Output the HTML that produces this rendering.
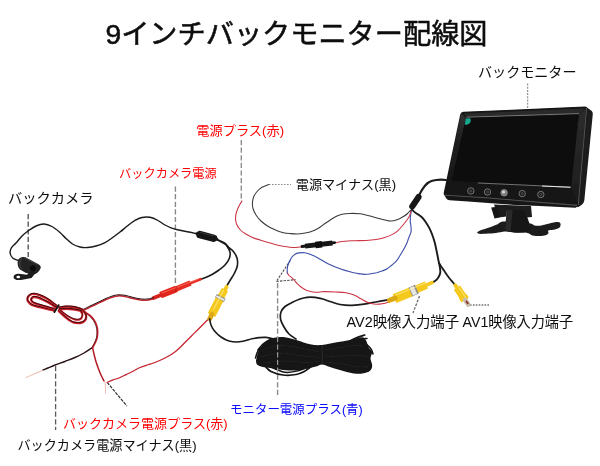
<!DOCTYPE html>
<html><head><meta charset="utf-8"><title>9インチバックモニター配線図</title>
<style>
html,body{margin:0;padding:0;background:#fff;font-family:"Liberation Sans",sans-serif;}
body{width:600px;height:466px;overflow:hidden;}
svg{display:block;}
</style></head><body>
<svg width="600" height="466" viewBox="0 0 600 466">
<defs><filter id="b" x="-5%" y="-5%" width="110%" height="110%"><feGaussianBlur stdDeviation="0.45"/></filter>
<filter id="bt" x="-5%" y="-5%" width="110%" height="110%"><feGaussianBlur stdDeviation="0.22"/></filter></defs>
<rect width="600" height="466" fill="#ffffff"/>
<g filter="url(#b)">
<line x1="527.6" y1="83.5" x2="527.6" y2="108.5" stroke="#969696" stroke-width="1.3" stroke-dasharray="2 1.2"/>
<line x1="241.3" y1="140" x2="241.3" y2="201" stroke="#8e8e8e" stroke-width="1.4" stroke-dasharray="5.2 2.4"/>
<line x1="175.4" y1="186.5" x2="175.4" y2="285" stroke="#8a8a8a" stroke-width="1.4" stroke-dasharray="5.2 2.4"/>
<line x1="28.2" y1="214" x2="28.2" y2="257" stroke="#4a4a4a" stroke-width="1.3" stroke-dasharray="5.2 2.4"/>
<line x1="55.6" y1="366" x2="55.6" y2="430" stroke="#5a5a5a" stroke-width="1.3" stroke-dasharray="5.2 2.4"/>
<line x1="277.6" y1="283" x2="277.6" y2="337.4" stroke="#8a8a8a" stroke-width="1.4" stroke-dasharray="5.2 2.4"/>
<line x1="277.6" y1="374.6" x2="277.6" y2="395" stroke="#8a8a8a" stroke-width="1.4" stroke-dasharray="5.2 2.4"/>
<line x1="269" y1="184.5" x2="291" y2="184.5" stroke="#8a8a8a" stroke-width="1.1" stroke-dasharray="1.6 1.4"/>
<line x1="470" y1="305" x2="490" y2="305" stroke="#707070" stroke-width="1.4" stroke-dasharray="1.6 1.3"/>
<line x1="419.5" y1="296" x2="413" y2="313" stroke="#6a6a6a" stroke-width="1.3" stroke-dasharray="2.6 1.4"/>
<line x1="107.2" y1="382.4" x2="127" y2="406.2" stroke="#2e2e2e" stroke-width="1.2" stroke-dasharray="3.2 1.1"/>
<path d="M290.2,260.6 L276.3,281.5 L295.6,279.6" fill="none" stroke="#505050" stroke-width="1.1" stroke-dasharray="2.4 1.2"/>
<path d="M18.5,260.5 C17.6,260.1 14.4,259.4 13.0,258.2 C11.6,257.0 10.5,255.2 10.2,253.5 C9.9,251.8 10.3,249.8 11.3,248.0 C12.3,246.2 14.2,245.0 16.0,243.0 C17.8,241.0 20.0,238.0 22.0,236.0 C24.0,234.0 25.7,232.7 28.0,231.0 C30.3,229.3 33.3,227.2 36.0,226.0 C38.7,224.8 41.3,223.9 44.0,224.0 C46.7,224.1 49.3,225.1 52.0,226.5 C54.7,227.9 57.7,230.5 60.0,232.5 C62.3,234.5 63.9,236.6 66.0,238.5 C68.1,240.4 70.2,242.6 72.5,244.0 C74.8,245.4 77.5,246.4 80.0,247.0 C82.5,247.6 84.8,247.7 87.5,247.5 C90.2,247.3 93.1,246.8 96.0,246.0 C98.9,245.2 102.3,243.9 105.0,242.6 C107.7,241.3 109.5,239.8 112.0,238.0 C114.5,236.2 117.3,234.1 120.0,232.0 C122.7,229.9 125.5,227.4 128.0,225.5 C130.5,223.6 132.7,221.7 135.0,220.4 C137.3,219.1 139.5,218.0 142.0,217.5 C144.5,217.0 147.3,216.8 150.0,217.3 C152.7,217.8 155.5,219.2 158.0,220.5 C160.5,221.8 162.8,223.8 165.0,225.0 C167.2,226.2 168.9,227.0 171.0,227.8 C173.1,228.6 175.0,229.2 177.5,229.8 C180.0,230.4 182.9,230.9 186.0,231.5 C189.1,232.1 194.3,233.2 196.0,233.6" fill="none" stroke="#1a1a1a" stroke-width="1.4" stroke-linecap="round" stroke-linejoin="round" />
<path d="M216.0,239.0 C217.0,239.5 220.3,241.1 222.0,242.0 C223.7,242.9 224.8,243.3 226.0,244.5 C227.2,245.7 228.9,248.2 229.5,249.0" fill="none" stroke="#1a1a1a" stroke-width="2" stroke-linecap="round" stroke-linejoin="round" />
<path d="M228.0,247.0 C228.8,247.7 231.5,249.2 233.0,251.0 C234.5,252.8 236.3,255.5 237.0,258.0 C237.7,260.5 237.8,263.3 237.3,266.0 C236.8,268.7 235.2,271.6 234.0,274.0 C232.8,276.4 231.2,278.5 230.0,280.5 C228.8,282.5 227.3,285.1 226.8,286.0" fill="none" stroke="#1a1a1a" stroke-width="1.6" stroke-linecap="round" stroke-linejoin="round" />
<path d="M227.0,246.0 C227.5,247.0 229.6,250.0 230.0,252.0 C230.4,254.0 230.3,255.8 229.5,258.0 C228.7,260.2 226.8,263.0 225.0,265.0 C223.2,267.0 221.2,268.4 219.0,270.0 C216.8,271.6 214.3,273.2 212.0,274.5 C209.7,275.8 206.9,277.0 205.0,277.8 C203.1,278.6 201.2,279.2 200.5,279.5" fill="none" stroke="#1a1a1a" stroke-width="1.6" stroke-linecap="round" stroke-linejoin="round" />
<path d="M196.5,233.6 L217,239.3" fill="none" stroke="#1a1a1a" stroke-width="2.6" stroke-linecap="round" />
<path d="M200,234.6 L213.6,238.3" fill="none" stroke="#161616" stroke-width="7.4" stroke-linecap="round" />
<path d="M200,232.4 L214,236.1" fill="none" stroke="#4a4a4a" stroke-width="0.9" stroke-linecap="round" opacity="0.7"/>
<path d="M200.5,279.3 L189.5,283.5" fill="none" stroke="#e62c22" stroke-width="2.8" stroke-linecap="round" />
<path d="M190.5,283.1 L176,289.1" fill="none" stroke="#e62c22" stroke-width="5.4" stroke-linecap="butt" />
<path d="M176.5,288.9 L160.5,295.1" fill="none" stroke="#e2281e" stroke-width="6.8" stroke-linecap="butt" />
<path d="M161,294.9 L153.5,297.9" fill="none" stroke="#d8241c" stroke-width="3.8" stroke-linecap="round" />
<path d="M198,279.2 L162,293.0" fill="none" stroke="#ff7868" stroke-width="1.0" stroke-linecap="round" opacity="0.75"/>
<path d="M176.5,286.6 L175.5,291.8" fill="none" stroke="#b81810" stroke-width="0.8" stroke-linecap="round" />
<path d="M153.5,298.8 C152.6,299.0 149.8,299.8 148.0,300.0 C146.2,300.2 144.7,300.3 143.0,300.2 C141.3,300.1 139.8,299.9 138.0,299.6 C136.2,299.3 134.2,298.7 132.0,298.2 C129.8,297.7 127.3,296.8 125.0,296.4 C122.7,296.0 120.2,295.8 118.0,295.9 C115.8,296.0 114.2,296.5 112.0,297.2 C109.8,297.9 107.0,299.1 105.0,300.0 C103.0,300.9 101.7,301.6 100.0,302.4 C98.3,303.2 96.7,304.0 95.0,304.8 C93.3,305.6 91.4,306.4 90.0,307.1 C88.6,307.8 87.7,308.3 86.5,308.9 C85.3,309.5 83.6,310.3 83.0,310.6" fill="none" stroke="#c4202a" stroke-width="1.5" stroke-linecap="round" stroke-linejoin="round" />
<path d="M153.5,297.7 C152.6,297.9 149.8,298.7 148.0,298.9 C146.2,299.1 144.7,299.2 143.0,299.1 C141.3,299.0 139.8,298.8 138.0,298.5 C136.2,298.2 134.2,297.6 132.0,297.1 C129.8,296.6 127.3,295.7 125.0,295.3 C122.7,294.9 120.2,294.7 118.0,294.8 C115.8,294.9 114.2,295.4 112.0,296.1 C109.8,296.8 107.0,298.0 105.0,298.9 C103.0,299.8 101.7,300.5 100.0,301.3 C98.3,302.1 96.7,302.9 95.0,303.7 C93.3,304.5 91.4,305.3 90.0,306.0 C88.6,306.7 87.7,307.2 86.5,307.8 C85.3,308.4 83.6,309.2 83.0,309.5" fill="none" stroke="#2a1414" stroke-width="1.0" stroke-linecap="round" stroke-linejoin="round" />
<path d="M56.5,305.7 C55.6,305.0 52.6,302.7 51.0,301.5 C49.4,300.3 48.5,299.5 46.7,298.5 C44.9,297.5 42.2,296.1 40.0,295.3 C37.8,294.5 35.1,293.8 33.3,293.9 C31.5,293.9 30.0,294.8 29.0,295.6 C28.0,296.5 27.5,298.0 27.4,299.0 C27.3,300.0 27.4,300.5 28.2,301.5 C29.0,302.5 30.0,304.1 32.0,305.0 C34.0,305.9 37.5,306.5 40.0,307.2 C42.5,307.9 44.8,308.4 47.0,309.0 C49.2,309.6 52.4,310.2 53.5,310.5" fill="none" stroke="#cc1e28" stroke-width="2.3" stroke-linecap="round" stroke-linejoin="round" />
<path d="M56.5,305.1 C55.6,304.4 52.6,302.1 51.0,300.9 C49.4,299.8 48.5,299.0 46.7,297.9 C44.9,296.9 42.2,295.5 40.0,294.8 C37.8,294.0 35.1,293.3 33.3,293.3 C31.5,293.4 30.0,294.2 29.0,295.1 C28.0,295.9 27.5,297.5 27.4,298.4 C27.3,299.4 27.4,299.9 28.2,300.9 C29.0,301.9 30.0,303.5 32.0,304.4 C34.0,305.4 37.5,306.0 40.0,306.6 C42.5,307.3 44.8,307.9 47.0,308.4 C49.2,309.0 52.4,309.7 53.5,309.9" fill="none" stroke="#2c0c0c" stroke-width="0.9659999999999999" stroke-linecap="round" stroke-linejoin="round" />
<path d="M56.0,307.5 C55.0,306.8 52.0,304.7 50.0,303.5 C48.0,302.3 46.0,301.3 44.0,300.3 C42.0,299.3 39.7,298.2 38.0,297.6 C36.3,297.1 35.1,296.9 34.0,297.0 C32.9,297.1 31.9,297.9 31.5,298.5 C31.1,299.1 31.0,299.8 31.3,300.5 C31.6,301.2 32.0,302.1 33.5,302.8 C35.0,303.6 37.6,304.2 40.0,305.0 C42.4,305.8 45.7,306.6 48.0,307.3 C50.3,308.0 53.0,308.7 54.0,309.0" fill="none" stroke="#cc1e28" stroke-width="2.3" stroke-linecap="round" stroke-linejoin="round" />
<path d="M56.0,306.9 C55.0,306.3 52.0,304.1 50.0,302.9 C48.0,301.8 46.0,300.7 44.0,299.8 C42.0,298.8 39.7,297.6 38.0,297.1 C36.3,296.5 35.1,296.3 34.0,296.4 C32.9,296.6 31.9,297.4 31.5,297.9 C31.1,298.5 31.0,299.2 31.3,299.9 C31.6,300.7 32.0,301.5 33.5,302.2 C35.0,303.0 37.6,303.7 40.0,304.4 C42.4,305.2 45.7,306.1 48.0,306.8 C50.3,307.4 53.0,308.2 54.0,308.4" fill="none" stroke="#2c0c0c" stroke-width="0.9659999999999999" stroke-linecap="round" stroke-linejoin="round" />
<path d="M59.3,307.6 C60.4,307.4 63.7,306.7 66.0,306.6 C68.3,306.5 70.8,306.7 73.0,307.0 C75.2,307.3 77.3,307.9 79.0,308.4 C80.7,308.9 82.3,309.7 83.0,310.0" fill="none" stroke="#cc1e28" stroke-width="2.3" stroke-linecap="round" stroke-linejoin="round" />
<path d="M59.3,307.1 C60.4,306.9 63.7,306.2 66.0,306.1 C68.3,305.9 70.8,306.1 73.0,306.4 C75.2,306.8 77.3,307.3 79.0,307.8 C80.7,308.3 82.3,309.2 83.0,309.4" fill="none" stroke="#2c0c0c" stroke-width="0.9659999999999999" stroke-linecap="round" stroke-linejoin="round" />
<path d="M59.3,309.4 C60.4,309.3 63.7,308.8 66.0,308.8 C68.3,308.8 70.8,309.0 73.0,309.3 C75.2,309.6 77.4,310.0 79.0,310.4 C80.6,310.8 82.1,311.3 82.7,311.5" fill="none" stroke="#cc1e28" stroke-width="2.3" stroke-linecap="round" stroke-linejoin="round" />
<path d="M59.3,308.8 C60.4,308.8 63.7,308.3 66.0,308.2 C68.3,308.2 70.8,308.5 73.0,308.8 C75.2,309.0 77.4,309.5 79.0,309.8 C80.6,310.2 82.1,310.8 82.7,310.9" fill="none" stroke="#2c0c0c" stroke-width="0.9659999999999999" stroke-linecap="round" stroke-linejoin="round" />
<path d="M58.7,311.0 C59.2,311.5 60.9,313.2 62.0,314.2 C63.1,315.2 64.1,316.0 65.3,317.0 C66.5,318.0 67.7,319.1 69.0,320.0 C70.3,320.9 71.5,321.9 73.3,322.4 C75.1,322.9 78.0,323.3 80.0,323.0 C82.0,322.7 84.0,321.7 85.0,320.5 C86.0,319.3 86.3,317.3 86.2,316.0 C86.1,314.7 85.1,313.4 84.5,312.5 C83.9,311.6 83.0,310.8 82.7,310.5" fill="none" stroke="#cc1e28" stroke-width="2.3" stroke-linecap="round" stroke-linejoin="round" />
<path d="M58.7,310.4 C59.2,311.0 60.9,312.6 62.0,313.6 C63.1,314.6 64.1,315.5 65.3,316.4 C66.5,317.4 67.7,318.6 69.0,319.4 C70.3,320.3 71.5,321.3 73.3,321.8 C75.1,322.3 78.0,322.8 80.0,322.4 C82.0,322.1 84.0,321.1 85.0,319.9 C86.0,318.8 86.3,316.8 86.2,315.4 C86.1,314.1 85.1,312.9 84.5,311.9 C83.9,311.0 83.0,310.3 82.7,309.9" fill="none" stroke="#2c0c0c" stroke-width="0.9659999999999999" stroke-linecap="round" stroke-linejoin="round" />
<path d="M60.0,310.3 C60.7,310.8 62.7,312.5 64.0,313.5 C65.3,314.5 66.7,315.5 68.0,316.3 C69.3,317.1 70.7,317.9 72.0,318.5 C73.3,319.1 74.7,319.7 76.0,319.8 C77.3,319.9 79.0,319.9 80.0,319.4 C81.0,318.9 81.6,317.9 82.0,317.0 C82.4,316.1 82.5,314.9 82.3,314.0 C82.1,313.1 81.2,312.2 81.0,311.8" fill="none" stroke="#cc1e28" stroke-width="1.9" stroke-linecap="round" stroke-linejoin="round" />
<path d="M60.0,309.8 C60.7,310.3 62.7,311.9 64.0,312.9 C65.3,313.9 66.7,314.9 68.0,315.8 C69.3,316.6 70.7,317.4 72.0,317.9 C73.3,318.5 74.7,319.1 76.0,319.2 C77.3,319.4 79.0,319.3 80.0,318.8 C81.0,318.4 81.6,317.3 82.0,316.4 C82.4,315.6 82.5,314.3 82.3,313.4 C82.1,312.6 81.2,311.6 81.0,311.2" fill="none" stroke="#2c0c0c" stroke-width="0.7979999999999999" stroke-linecap="round" stroke-linejoin="round" />
<path d="M58.6,305.2 L54.4,312" fill="none" stroke="#161212" stroke-width="2.0" stroke-linecap="round" />
<path d="M85.0,312.0 C85.8,312.6 88.5,314.2 90.0,315.5 C91.5,316.8 92.9,318.2 94.0,320.0 C95.1,321.8 96.2,324.0 96.8,326.0 C97.4,328.0 97.6,330.0 97.6,332.0 C97.6,334.0 97.4,336.2 97.0,338.0 C96.6,339.8 95.8,341.4 95.0,343.0 C94.2,344.6 92.9,346.8 92.5,347.5" fill="none" stroke="#c4202a" stroke-width="1.7" stroke-linecap="round" stroke-linejoin="round" />
<path d="M84.3,312.3 C85.1,312.9 87.8,314.5 89.3,315.8 C90.8,317.1 92.2,318.6 93.3,320.3 C94.4,322.1 95.5,324.3 96.1,326.3 C96.7,328.3 96.9,330.3 96.9,332.3 C96.9,334.3 96.7,336.5 96.3,338.3 C95.9,340.1 95.0,341.7 94.3,343.3 C93.5,344.9 92.2,347.1 91.8,347.8" fill="none" stroke="#401515" stroke-width="0.7" stroke-linecap="round" stroke-linejoin="round" />
<path d="M92.5,347.5 C91.1,348.4 86.9,351.3 84.0,353.0 C81.1,354.7 78.2,356.1 75.0,357.5 C71.8,358.9 68.3,360.2 65.0,361.5 C61.7,362.8 57.8,363.9 55.0,365.0 C52.2,366.1 50.1,367.1 48.0,368.0 C45.9,368.9 43.4,369.9 42.5,370.3" fill="none" stroke="#2a1214" stroke-width="1.4" stroke-linecap="round" stroke-linejoin="round" />
<path d="M42.5,370.3 C41.1,370.9 36.8,372.8 34.0,374.0 C31.2,375.2 27.3,376.9 26.0,377.5" fill="none" stroke="#ecc6bc" stroke-width="1.2" stroke-linecap="round" stroke-linejoin="round" />
<path d="M92.5,347.5 C92.7,348.2 93.0,349.9 93.5,352.0 C94.0,354.1 94.8,357.4 95.5,360.0 C96.2,362.6 97.1,365.0 98.0,367.5 C98.9,370.0 100.0,372.8 101.0,375.0 C102.0,377.2 103.5,380.0 104.0,381.0" fill="none" stroke="#b41e28" stroke-width="1.5" stroke-linecap="round" stroke-linejoin="round" />
<path d="M104.8,382.0 C104.9,382.7 105.3,384.2 105.4,386.0 C105.5,387.8 105.5,391.8 105.5,393.0" fill="none" stroke="#eab8ac" stroke-width="1.0" stroke-linecap="round" stroke-linejoin="round" />
<path d="M107.0,382.5 C108.0,382.1 111.0,380.6 113.0,379.9 C115.0,379.1 116.8,378.9 119.0,378.0 C121.2,377.1 123.6,375.8 126.0,374.6 C128.4,373.4 131.3,372.2 133.6,371.0 C135.9,369.8 137.6,368.5 140.0,367.5 C142.4,366.5 145.5,365.6 148.0,364.8 C150.5,364.0 152.3,363.6 155.0,362.5 C157.7,361.4 161.1,359.9 164.0,358.5 C166.9,357.1 170.0,355.5 172.5,353.8 C175.0,352.1 176.9,350.4 179.0,348.5 C181.1,346.6 183.0,344.5 185.0,342.5 C187.0,340.5 188.9,338.6 191.0,336.5 C193.1,334.4 195.5,332.0 197.5,330.0 C199.5,328.0 201.3,326.2 203.0,324.5 C204.7,322.8 206.4,321.0 207.5,320.0 C208.6,319.0 209.2,318.8 209.5,318.6" fill="none" stroke="#c4222c" stroke-width="1.2" stroke-linecap="round" stroke-linejoin="round" />
<path d="M226.6,286.8 L224.4,290.8" fill="none" stroke="#f4c81c" stroke-width="3.8" stroke-linecap="round" />
<path d="M225,289.6 L220.3,298" fill="none" stroke="#f4c81c" stroke-width="7.0" stroke-linecap="butt" />
<path d="M221.2,296.4 L219.4,299.8" fill="none" stroke="#8c8c84" stroke-width="10.0" stroke-linecap="butt" />
<path d="M220.7,297.3 L219.9,298.9" fill="none" stroke="#ecece6" stroke-width="9.0" stroke-linecap="butt" />
<path d="M219.5,299.4 L211.5,315" fill="none" stroke="#f4c81c" stroke-width="8.4" stroke-linecap="butt" />
<path d="M211.8,314.5 L209.8,318.6" fill="none" stroke="#dba812" stroke-width="4.8" stroke-linecap="round" />
<path d="M223.4,290.5 L213.8,309" fill="none" stroke="#fff3a0" stroke-width="1.3" stroke-linecap="round" opacity="0.6"/>
<path d="M209.6,318.8 C209.8,319.8 210.2,323.0 211.0,325.0 C211.8,327.0 212.8,329.0 214.5,331.0 C216.2,333.0 218.6,335.3 221.0,337.0 C223.4,338.7 226.3,340.2 229.0,341.0 C231.7,341.8 234.5,342.0 237.0,342.0 C239.5,342.0 241.5,341.5 244.0,341.0 C246.5,340.5 249.5,339.4 252.0,338.8 C254.5,338.2 256.7,337.8 259.0,337.6 C261.3,337.4 263.5,337.2 266.0,337.4 C268.5,337.6 272.7,338.7 274.0,339.0" fill="none" stroke="#1a1a1a" stroke-width="1.6" stroke-linecap="round" stroke-linejoin="round" />
<path d="M256.0,361.0 C256.2,359.8 256.7,356.3 257.5,354.0 C258.3,351.7 259.8,348.9 261.0,347.0 C262.2,345.1 263.3,343.9 265.0,342.5 C266.7,341.1 268.0,339.5 271.0,338.6 C274.0,337.7 278.7,336.7 283.0,337.0 C287.3,337.3 292.5,339.1 297.0,340.3 C301.5,341.5 305.8,343.5 310.0,344.3 C314.2,345.1 317.6,345.3 322.0,345.0 C326.4,344.7 332.0,343.1 336.7,342.3 C341.4,341.5 345.8,340.8 350.0,340.0 C354.2,339.2 359.3,337.2 362.0,337.3 C364.7,337.4 364.9,338.8 366.0,340.5 C367.1,342.2 367.7,345.8 368.7,347.7 C369.7,349.6 371.7,350.2 372.0,352.0 C372.3,353.8 370.5,356.2 370.5,358.5 C370.5,360.8 372.5,363.8 372.2,366.0 C371.9,368.2 371.2,370.4 368.7,371.7 C366.2,373.0 361.2,373.9 357.0,373.8 C352.8,373.7 347.8,372.1 343.3,371.0 C338.8,369.9 333.6,368.1 330.0,367.0 C326.4,365.9 324.3,364.6 322.0,364.5 C319.7,364.4 318.7,365.8 316.0,366.5 C313.3,367.2 309.2,368.3 306.0,369.0 C302.8,369.7 300.8,370.3 297.0,370.5 C293.2,370.7 287.5,370.4 283.0,370.0 C278.5,369.6 273.7,368.6 270.0,368.0 C266.3,367.4 263.2,367.1 261.0,366.5 C258.8,365.9 257.8,365.4 257.0,364.5 C256.2,363.6 256.2,361.6 256.0,361.0 Z" fill="#131313"/>
<path d="M265.0,366.0 C266.0,366.9 268.0,370.0 271.0,371.5 C274.0,373.0 278.8,374.5 283.0,375.0 C287.2,375.5 292.3,375.2 296.0,374.5 C299.7,373.8 302.5,372.3 305.0,371.0 C307.5,369.7 310.0,367.2 311.0,366.5" fill="none" stroke="#131313" stroke-width="1.7" stroke-linecap="round" stroke-linejoin="round" />
<path d="M273.0,368.0 C275.0,368.7 280.7,371.9 285.0,372.3 C289.3,372.7 295.3,371.6 299.0,370.6 C302.7,369.6 305.7,367.2 307.0,366.5" fill="none" stroke="#131313" stroke-width="1.5" stroke-linecap="round" stroke-linejoin="round" />
<path d="M258.0,350.0 C258.8,349.0 261.0,345.7 263.0,344.0 C265.0,342.3 267.2,340.9 270.0,340.0 C272.8,339.1 278.3,338.8 280.0,338.5" fill="none" stroke="#131313" stroke-width="1.6" stroke-linecap="round" stroke-linejoin="round" />
<path d="M255.5,358.0 C255.9,356.8 256.8,352.8 258.0,351.0 C259.2,349.2 262.2,347.7 263.0,347.0" fill="none" stroke="#131313" stroke-width="1.5" stroke-linecap="round" stroke-linejoin="round" />
<path d="M350.0,341.0 C351.2,340.4 354.6,338.5 357.0,337.5 C359.4,336.5 363.4,335.4 364.7,335.0" fill="none" stroke="#131313" stroke-width="1.7" stroke-linecap="round" stroke-linejoin="round" />
<path d="M356.0,342.0 C357.0,341.5 360.2,339.6 362.0,339.0 C363.8,338.4 366.2,338.6 367.0,338.5" fill="none" stroke="#131313" stroke-width="1.5" stroke-linecap="round" stroke-linejoin="round" />
<path d="M366.0,344.0 C366.8,344.8 369.8,347.3 371.0,349.0 C372.2,350.7 372.7,353.2 373.0,354.0" fill="none" stroke="#131313" stroke-width="1.5" stroke-linecap="round" stroke-linejoin="round" />
<path d="M262.0,350.0 C265.0,349.2 273.7,345.8 280.0,345.5 C286.3,345.2 293.3,346.9 300.0,348.0 C306.7,349.1 316.7,351.3 320.0,352.0" fill="none" stroke="#3c3c3c" stroke-width="0.7" stroke-linecap="round" stroke-linejoin="round" opacity="0.55"/>
<path d="M260.0,357.0 C263.3,356.3 273.3,353.2 280.0,353.0 C286.7,352.8 293.3,354.8 300.0,355.5 C306.7,356.2 316.7,357.2 320.0,357.5" fill="none" stroke="#3c3c3c" stroke-width="0.7" stroke-linecap="round" stroke-linejoin="round" opacity="0.55"/>
<path d="M264.0,363.0 C267.5,362.7 278.2,361.1 285.0,361.0 C291.8,360.9 299.2,362.5 305.0,362.5 C310.8,362.5 317.5,361.2 320.0,361.0" fill="none" stroke="#3c3c3c" stroke-width="0.7" stroke-linecap="round" stroke-linejoin="round" opacity="0.55"/>
<path d="M324.0,350.0 C326.7,349.6 334.8,348.2 340.0,347.5 C345.2,346.8 350.7,345.8 355.0,345.5 C359.3,345.2 364.2,345.9 366.0,346.0" fill="none" stroke="#3c3c3c" stroke-width="0.7" stroke-linecap="round" stroke-linejoin="round" opacity="0.55"/>
<path d="M324.0,357.0 C327.0,356.8 336.3,356.2 342.0,356.0 C347.7,355.8 353.5,355.3 358.0,355.5 C362.5,355.7 367.2,356.8 369.0,357.0" fill="none" stroke="#3c3c3c" stroke-width="0.7" stroke-linecap="round" stroke-linejoin="round" opacity="0.55"/>
<path d="M326.0,362.0 C328.7,362.3 337.0,363.2 342.0,364.0 C347.0,364.8 351.7,366.0 356.0,366.5 C360.3,367.0 366.0,366.9 368.0,367.0" fill="none" stroke="#3c3c3c" stroke-width="0.7" stroke-linecap="round" stroke-linejoin="round" opacity="0.55"/>
<path d="M322,345.5 L322.3,364.5" fill="none" stroke="#303030" stroke-width="1.0" stroke-linecap="butt" />
<line x1="277.6" y1="337" x2="277.6" y2="376" stroke="#9a9a9a" stroke-width="1.2" stroke-dasharray="5.2 2.4"/>
<path d="M296.0,339.0 C294.8,338.2 291.0,336.0 289.0,334.0 C287.0,332.0 285.4,329.5 284.0,327.0 C282.6,324.5 281.0,321.5 280.5,319.0 C280.0,316.5 280.2,314.1 281.0,312.0 C281.8,309.9 283.2,308.1 285.0,306.5 C286.8,304.9 289.5,303.8 292.0,302.5 C294.5,301.2 297.5,299.9 300.0,299.0 C302.5,298.1 304.5,297.6 307.0,297.3 C309.5,297.0 312.5,297.1 315.0,297.3 C317.5,297.6 319.3,298.1 322.0,298.8 C324.7,299.6 328.0,300.9 331.0,301.8 C334.0,302.8 336.5,303.9 340.0,304.5 C343.5,305.1 348.0,305.4 352.0,305.3 C356.0,305.2 360.0,304.8 364.0,304.2 C368.0,303.6 372.0,302.7 376.0,302.0 C380.0,301.3 386.0,300.2 388.0,299.8" fill="none" stroke="#1a1a1a" stroke-width="1.7" stroke-linecap="round" stroke-linejoin="round" />
<path d="M287.3,273.0 C287.6,273.4 288.2,274.7 289.0,275.5 C289.8,276.3 290.9,276.8 291.8,277.6 C292.7,278.4 293.6,279.5 294.5,280.5 C295.4,281.5 296.1,282.5 297.2,283.6 C298.3,284.7 299.6,285.9 301.0,287.0 C302.4,288.1 304.2,289.2 305.8,290.0 C307.4,290.8 308.9,291.2 310.5,291.6 C312.1,292.0 313.8,292.2 315.4,292.3 C317.0,292.4 318.4,292.1 320.0,292.0 C321.6,291.9 322.3,291.6 325.0,291.6 C327.7,291.6 332.5,291.8 336.0,292.0 C339.5,292.2 343.0,292.3 346.0,292.8 C349.0,293.3 351.5,294.0 354.0,295.0 C356.5,296.0 358.7,297.5 361.0,298.8 C363.3,300.1 365.5,301.7 368.0,302.6 C370.5,303.5 373.3,304.2 376.0,304.3 C378.7,304.4 381.8,303.8 384.0,303.4 C386.2,302.9 388.2,301.9 389.0,301.6" fill="none" stroke="#cc3444" stroke-width="1.05" stroke-linecap="round" stroke-linejoin="round" />
<path d="M411.5,210.3 C411.3,211.2 410.7,214.1 410.5,216.0 C410.3,217.9 410.2,219.7 410.3,221.5 C410.4,223.3 410.9,225.2 411.0,227.0 C411.1,228.8 411.4,230.2 411.0,232.0 C410.6,233.8 409.4,236.0 408.7,238.0 C407.9,240.0 407.4,242.0 406.5,244.0 C405.6,246.0 404.4,248.1 403.3,250.0 C402.2,251.9 401.1,253.7 400.0,255.5 C398.9,257.3 398.0,259.1 396.7,260.7 C395.4,262.3 393.6,263.7 392.0,265.0 C390.4,266.3 389.0,267.7 387.3,268.7 C385.6,269.7 383.8,270.3 382.0,271.0 C380.2,271.7 379.4,272.1 376.7,272.7 C374.0,273.2 369.3,274.2 366.0,274.3 C362.7,274.4 359.4,273.7 356.7,273.3 C354.0,272.9 352.8,272.6 350.0,271.8 C347.2,271.1 343.7,270.1 340.0,268.8 C336.3,267.5 331.7,265.6 328.0,263.8 C324.3,262.0 321.0,259.6 318.0,258.0 C315.0,256.4 312.2,255.2 310.0,254.3 C307.8,253.4 306.5,252.9 304.7,252.7 C302.9,252.5 300.6,252.7 299.0,252.9 C297.4,253.2 296.2,253.5 295.0,254.2 C293.8,254.9 292.8,256.0 292.0,257.0 C291.2,258.0 290.8,258.9 290.2,260.0 C289.6,261.1 288.9,262.3 288.5,263.5 C288.1,264.7 287.7,265.9 287.5,267.0 C287.3,268.1 287.2,269.0 287.2,270.0 C287.2,271.0 287.3,272.5 287.3,273.0" fill="none" stroke="#3e50aa" stroke-width="1.15" stroke-linecap="round" stroke-linejoin="round" />
<path d="M411.0,211.0 C410.8,211.8 410.2,214.5 409.5,216.0 C408.8,217.5 408.1,218.5 407.0,220.0 C405.9,221.5 404.5,223.2 403.0,225.0 C401.5,226.8 399.8,229.0 398.0,230.6 C396.2,232.2 394.8,233.2 392.5,234.4 C390.2,235.6 386.8,236.9 384.0,237.8 C381.2,238.7 379.0,239.2 376.0,239.6 C373.0,240.0 369.5,240.3 366.0,240.5 C362.5,240.7 358.0,240.6 355.0,240.7 C352.0,240.8 350.2,240.8 348.0,240.9 C345.8,241.0 344.1,241.1 342.0,241.4 C339.9,241.7 336.4,242.6 335.3,242.8" fill="none" stroke="#cc3444" stroke-width="1.05" stroke-linecap="round" stroke-linejoin="round" />
<path d="M301.3,246.8 C300.4,246.9 297.9,247.3 296.0,247.4 C294.1,247.5 292.1,247.4 290.0,247.2 C287.9,247.0 285.6,246.7 283.3,246.3 C281.0,245.9 278.2,245.4 276.0,244.8 C273.8,244.2 272.7,243.8 270.0,243.0 C267.3,242.2 262.9,240.9 260.0,240.0 C257.1,239.1 255.0,238.6 252.5,237.5 C250.0,236.4 247.1,234.8 245.0,233.5 C242.9,232.2 241.4,231.1 240.0,229.5 C238.6,227.9 237.2,225.9 236.5,224.0 C235.8,222.1 235.5,220.0 235.5,218.0 C235.5,216.0 235.9,214.0 236.5,212.0 C237.1,210.0 238.1,207.8 239.0,206.0 C239.9,204.2 241.5,201.8 242.0,201.0" fill="none" stroke="#cc3444" stroke-width="1.05" stroke-linecap="round" stroke-linejoin="round" />
<path d="M302,246.5 L334.6,242.7" fill="none" stroke="#181818" stroke-width="2.8" stroke-linecap="round" />
<path d="M305,246.2 L332.5,243.0" fill="none" stroke="#141414" stroke-width="4.8" stroke-linecap="butt" />
<path d="M315.5,244.95 L322,244.2" fill="none" stroke="#0e0e0e" stroke-width="6.4" stroke-linecap="butt" />
<path d="M410.6,210.3 C410.0,210.9 408.2,213.0 407.0,214.0 C405.8,215.0 405.2,215.5 403.5,216.5 C401.8,217.5 399.2,219.1 397.0,219.8 C394.8,220.6 392.8,221.2 390.0,221.0 C387.2,220.8 383.3,219.6 380.0,218.8 C376.7,218.0 373.3,216.8 370.0,216.0 C366.7,215.2 363.3,214.2 360.0,213.8 C356.7,213.4 353.0,213.3 350.0,213.4 C347.0,213.5 344.2,213.8 342.0,214.2 C339.8,214.6 338.8,215.1 337.0,216.0 C335.2,216.9 333.0,218.2 331.0,219.5 C329.0,220.8 327.2,222.0 325.0,223.5 C322.8,225.0 320.5,227.1 318.0,228.5 C315.5,229.9 313.0,231.1 310.0,232.0 C307.0,232.9 303.3,233.5 300.0,233.8 C296.7,234.1 292.9,233.8 290.0,233.6 C287.1,233.4 285.0,233.1 282.5,232.5 C280.0,231.9 277.5,230.9 275.0,229.8 C272.5,228.7 269.8,227.5 267.5,226.0 C265.2,224.5 262.9,222.8 261.0,221.0 C259.1,219.2 257.3,217.1 256.0,215.0 C254.7,212.9 253.6,210.7 253.0,208.5 C252.4,206.3 252.3,204.1 252.5,202.0 C252.7,199.9 253.2,197.8 254.0,196.0 C254.8,194.2 256.2,192.4 257.5,191.0 C258.8,189.6 260.1,188.4 262.0,187.3 C263.9,186.2 267.6,185.1 268.7,184.6" fill="none" stroke="#3a3a3a" stroke-width="1.05" stroke-linecap="round" stroke-linejoin="round" />
<path d="M446.0,180.0 C445.2,179.9 442.6,179.7 441.0,179.7 C439.4,179.7 438.0,179.8 436.4,180.0 C434.8,180.2 432.9,180.5 431.5,181.0 C430.1,181.5 428.9,182.2 427.8,183.0 C426.7,183.8 425.7,185.0 424.8,186.0 C423.9,187.0 423.3,188.0 422.6,189.0 C421.9,190.0 421.4,191.0 420.8,192.0 C420.2,193.0 419.5,194.5 419.2,195.0" fill="none" stroke="#1a1a1a" stroke-width="2.2" stroke-linecap="round" stroke-linejoin="round" />
<path d="M418.6,197 L412.2,206.5" fill="none" stroke="#151515" stroke-width="6" stroke-linecap="round" />
<path d="M411.8,209.5 C412.5,210.1 414.6,212.1 415.8,213.0 C417.0,213.9 417.9,214.2 419.0,215.0 C420.1,215.8 421.4,216.8 422.6,218.0 C423.8,219.2 424.9,220.8 426.0,222.5 C427.1,224.2 428.4,226.3 429.5,228.4 C430.6,230.5 431.4,232.7 432.3,235.0 C433.2,237.3 433.9,239.5 434.6,242.0 C435.3,244.5 435.9,247.5 436.4,250.0 C436.9,252.5 437.4,254.8 437.8,257.0 C438.2,259.2 438.6,261.2 439.0,263.0 C439.4,264.8 439.8,266.3 440.0,268.0 C440.2,269.7 440.5,271.3 440.2,273.0 C439.9,274.7 438.9,276.7 438.0,278.0 C437.1,279.3 436.1,280.2 435.0,281.0 C433.9,281.8 432.1,282.7 431.5,283.0" fill="none" stroke="#1a1a1a" stroke-width="1.9" stroke-linecap="round" stroke-linejoin="round" />
<path d="M439.0,263.0 C439.4,263.7 440.7,265.8 441.5,267.0 C442.3,268.2 443.1,269.2 444.0,270.5 C444.9,271.8 446.0,273.6 447.0,275.0 C448.0,276.4 449.0,277.8 450.0,279.0 C451.0,280.2 452.1,281.4 453.0,282.5 C453.9,283.6 455.1,285.0 455.5,285.5" fill="none" stroke="#1a1a1a" stroke-width="1.8" stroke-linecap="round" stroke-linejoin="round" />
<path d="M432,282.6 L425,285.6" fill="none" stroke="#f4c81c" stroke-width="3.6" stroke-linecap="round" />
<path d="M426.5,285 L415.5,289.8" fill="none" stroke="#f4c81c" stroke-width="7.8" stroke-linecap="butt" />
<path d="M416.8,289.2 L409.8,292.3" fill="none" stroke="#8c8c84" stroke-width="9.6" stroke-linecap="butt" />
<path d="M415.4,289.9 L411.2,291.7" fill="none" stroke="#e6e6e0" stroke-width="8.6" stroke-linecap="butt" />
<path d="M410.6,292.2 L394.5,298.6" fill="none" stroke="#f4c81c" stroke-width="9.4" stroke-linecap="butt" />
<path d="M395,298.1 L389.6,300.3" fill="none" stroke="#dba812" stroke-width="5.0" stroke-linecap="round" />
<path d="M426,283.0 L396,295.0" fill="none" stroke="#fff3a0" stroke-width="1.3" stroke-linecap="round" opacity="0.6"/>
<path d="M455.3,285.3 L457.8,288.6" fill="none" stroke="#f4c81c" stroke-width="3.8" stroke-linecap="round" />
<path d="M457,287.6 L463.4,297.4" fill="none" stroke="#f4c81c" stroke-width="7.6" stroke-linecap="butt" />
<path d="M462.6,296.2 L465.2,300.2" fill="none" stroke="#f4c81c" stroke-width="8.8" stroke-linecap="butt" />
<path d="M465.2,300 L468.2,304.4" fill="none" stroke="#c8c0b0" stroke-width="4.8" stroke-linecap="round" />
<path d="M466.4,301.4 L467.8,303.4" fill="none" stroke="#8a3020" stroke-width="1.8" stroke-linecap="round" />
<path d="M459.3,287.8 L465.4,297.2" fill="none" stroke="#fff3a0" stroke-width="1.3" stroke-linecap="round" opacity="0.55"/>
<path d="M21.5,257.3 C19,257.8 17.5,260 17.6,263 C17.7,266 18.5,268 20,269.5 L25.5,272.8 L34,274.2 C36.5,274 39,271.5 40.5,268.5 C41.3,266.8 40.5,265.3 38.5,264.2 L26,257.5 C24.5,256.8 23,256.9 21.5,257.3 Z" fill="#232323"/>
<path d="M22.5,258.2 C20.3,259.5 19.6,261.5 19.8,264 C20,266.3 20.8,267.8 22,268.8" stroke="#4a4a4a" stroke-width="1" fill="none"/>
<path d="M24,257.6 L37.5,264.6" stroke="#484848" stroke-width="0.9" fill="none"/>
<circle cx="32.8" cy="268.4" r="3.9" fill="#2c2c2c"/>
<circle cx="32.8" cy="268.4" r="3.1" fill="#070707"/>
<path d="M36,272.6 L31.5,278 L21,279.9 Q14,280.6 13.5,277.2 Q13.6,273.9 18.5,273.8 L27,274.8 L29,272.2 Z" fill="#1c1c1c"/>
<ellipse cx="18.3" cy="277" rx="1.9" ry="1.25" fill="#fff"/>
<defs><linearGradient id="scr" x1="0" y1="0" x2="1" y2="1"><stop offset="0" stop-color="#090909"/><stop offset="0.55" stop-color="#111111"/><stop offset="1" stop-color="#0a0a0a"/></linearGradient><linearGradient id="lb" x1="0" y1="0" x2="0" y2="1"><stop offset="0" stop-color="#323232"/><stop offset="0.4" stop-color="#1c1c1c"/><stop offset="1" stop-color="#171717"/></linearGradient><linearGradient id="rb" x1="0" y1="0" x2="0" y2="1"><stop offset="0" stop-color="#2c2c2c"/><stop offset="1" stop-color="#1c1c1c"/></linearGradient></defs>
<path d="M586,106.8 L591.5,110.8 Q593,112 592.8,114 L584.3,200.5 Q584,203 581.5,205 L578,207.3 L576,206 Z" fill="#1a1a1a"/>
<path d="M443.6,194 L446.5,198.8 Q447.5,200 449.5,200.3 L468.3,201.6 L488.3,203 L515,204.9 L540,206 L575.5,207.8 L579,205.6 Z" fill="#141414"/>
<path d="M463.5,111.8 L585,106.6 Q587.3,106.6 587,109 L578.8,203.4 Q578.6,205.6 576.5,205.5 L515,200.2 L488.3,198 L461.7,196.3 L446,195.3 Q443.2,195 443.8,192.4 L460.2,114.5 Q460.8,112 463.5,111.8 Z" fill="#191919"/>
<path d="M463.8,112.8 L585.4,107.6 L579,114 L466.2,117.4 Z" fill="#2a2a2a"/>
<path d="M461.2,113.6 L466,118 L451.3,181.3 L445.2,193 Z" fill="url(#lb)"/>
<path d="M585.8,108.4 L579,114.4 L571.2,187 L578.0,203.2 Z" fill="url(#rb)"/>
<path d="M445.4,193.6 L451.3,181.6 L571,187.2 L577.6,203.6 L515,199.2 L488.3,197 L461.7,195.3 Z" fill="#161616"/>
<path d="M586.6,108 L578.3,205" stroke="#585858" stroke-width="0.9" fill="none"/>
<path d="M466.5,117.2 L579,113.6" stroke="#767676" stroke-width="1" fill="none"/>
<path d="M463,112.9 L585,107.7" stroke="#161616" stroke-width="1.2" fill="none"/>
<path d="M466,118 L578.8,114.6 L571,187 L451.3,181.3 Z" fill="url(#scr)"/>
<path d="M478,183 L570.5,187.2" stroke="#7c7c7c" stroke-width="0.9" fill="none"/>
<path d="M542,186 L570.5,187.3" stroke="#e8e8e8" stroke-width="1.1" fill="none"/>
<path d="M445,195.2 L461.7,196.3 L488.3,198 L515,200.2 L577,205.4" stroke="#505050" stroke-width="1.1" fill="none"/>
<path d="M465.8,118.4 L470.2,118.2 Q471.6,121.5 469.4,123.6 Q467.2,125.4 464.8,124.4 Z" fill="#17a88e"/>
<circle cx="470.8" cy="190.9" r="3.2" fill="#1a1a1a" stroke="#8c8c8c" stroke-width="0.8"/>
<circle cx="470.8" cy="190.9" r="1.1" fill="none" stroke="#777" stroke-width="0.5"/>
<circle cx="487.5" cy="192" r="3.2" fill="#1a1a1a" stroke="#8c8c8c" stroke-width="0.8"/>
<circle cx="487.5" cy="192" r="1.1" fill="none" stroke="#777" stroke-width="0.5"/>
<circle cx="504.1" cy="192.8" r="3.3" fill="#777" stroke="#999" stroke-width="0.7"/>
<circle cx="503.6" cy="192.0" r="1.6" fill="#d8d8d8"/>
<circle cx="522.2" cy="193.6" r="3.2" fill="#1a1a1a" stroke="#8c8c8c" stroke-width="0.8"/>
<circle cx="522.2" cy="193.6" r="1.1" fill="none" stroke="#777" stroke-width="0.5"/>
<circle cx="540.8" cy="194.5" r="3.2" fill="#1a1a1a" stroke="#8c8c8c" stroke-width="0.8"/>
<circle cx="540.8" cy="194.5" r="1.1" fill="none" stroke="#777" stroke-width="0.5"/>
<path d="M477.0,232.6 C477.5,232.2 477.8,231.3 480.0,230.4 C482.2,229.5 487.2,228.2 490.0,227.2 C492.8,226.2 495.2,225.4 497.0,224.6 C498.8,223.8 499.0,222.7 500.5,222.2 C502.0,221.7 503.1,221.6 506.0,221.6 C508.9,221.6 513.9,221.7 518.0,222.0 C522.1,222.3 527.8,223.0 530.5,223.6 C533.2,224.2 532.9,225.1 534.5,225.4 C536.1,225.8 538.1,225.9 540.0,225.7 C541.9,225.5 544.2,224.8 546.0,224.3 C547.8,223.9 549.3,223.4 551.0,223.0 C552.7,222.6 554.6,222.1 556.0,222.0 C557.4,221.9 558.8,222.0 559.6,222.5 C560.4,223.0 560.7,223.9 560.6,224.8 C560.5,225.7 560.2,227.2 559.0,228.0 C557.8,228.8 555.3,229.3 553.5,229.7 C551.7,230.1 549.1,230.0 548.2,230.6 C547.4,231.2 548.9,232.4 548.4,233.2 C547.9,234.0 546.9,234.8 545.5,235.2 C544.1,235.6 542.2,235.9 540.0,235.9 C537.8,235.9 534.3,235.8 532.5,235.4 C530.7,235.0 530.2,234.1 529.0,233.6 C527.8,233.1 527.3,232.8 525.0,232.6 C522.7,232.4 518.3,232.6 515.0,232.4 C511.7,232.2 508.2,231.5 505.0,231.6 C501.8,231.7 499.2,232.7 496.0,233.0 C492.8,233.3 488.8,233.6 486.0,233.7 C483.2,233.8 480.5,234.0 479.0,233.8 C477.5,233.6 477.3,232.8 477.0,232.6 Z" fill="#1d1d1d"/>
<path d="M507.3,209 L524.5,209 L531,228 Q531,232.5 518,232.8 Q505,232.5 504.8,228.5 Z" fill="#171717"/>
<path d="M507.6,210 L512.6,210 L510.4,231.6 Q506,230.8 505.2,228.6 Z" fill="#2c2c2c"/>
<path d="M494,204.5 L531,206 L532,217 L526,217.5 L524.5,210 L507,210 L506.5,216.5 L498.5,217.5 Z" fill="#1a1a1a"/>
<path d="M491.2,207.5 L497.5,206.8 L499.5,217.5 L494.5,218.5 Z" fill="#141414"/>
</g>
<g filter="url(#bt)" font-family="'Liberation Sans', 'Noto Sans CJK JP', sans-serif">
<text x="105.5" y="44" font-size="28" fill="#0a0a0a" stroke="#0a0a0a" stroke-width="0.5" stroke-linejoin="round" textLength="382" lengthAdjust="spacingAndGlyphs">9インチバックモニター配線図</text>
<text x="478" y="77.4" font-size="14" fill="#0a0a0a" textLength="98.5" lengthAdjust="spacingAndGlyphs">バックモニター</text>
<text x="196.3" y="135" font-size="13" fill="#ff0000" textLength="87.8" lengthAdjust="spacingAndGlyphs">電源プラス(赤)</text>
<text x="119" y="178.4" font-size="12.2" fill="#ff0000" textLength="97.8" lengthAdjust="spacingAndGlyphs">バックカメラ電源</text>
<text x="295.8" y="188.8" font-size="13" fill="#0a0a0a" textLength="100.2" lengthAdjust="spacingAndGlyphs">電源マイナス(黒)</text>
<text x="8" y="202.8" font-size="14.2" fill="#0a0a0a" textLength="85.6" lengthAdjust="spacingAndGlyphs">バックカメラ</text>
<text x="346.5" y="327.4" font-size="14.3" fill="#0a0a0a" textLength="112.6" lengthAdjust="spacingAndGlyphs">AV2映像入力端子</text>
<text x="462.6" y="327.4" font-size="14.3" fill="#0a0a0a" textLength="110.5" lengthAdjust="spacingAndGlyphs">AV1映像入力端子</text>
<text x="230" y="414.4" font-size="12.4" fill="#0808ff" textLength="132.7" lengthAdjust="spacingAndGlyphs">モニター電源プラス(青)</text>
<text x="63" y="428" font-size="13" fill="#ff0000" textLength="164.6" lengthAdjust="spacingAndGlyphs">バックカメラ電源プラス(赤)</text>
<text x="17.5" y="449.5" font-size="13.1" fill="#0a0a0a" textLength="179.1" lengthAdjust="spacingAndGlyphs">バックカメラ電源マイナス(黒)</text>
</g>
</svg>
</body></html>
